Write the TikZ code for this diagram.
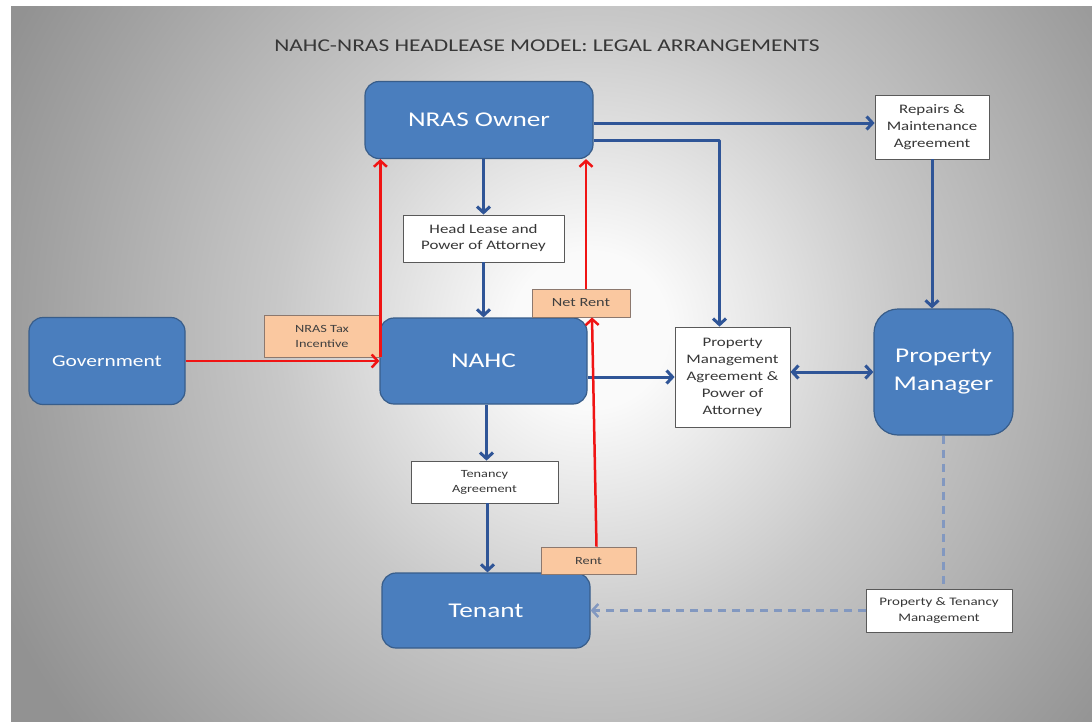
\documentclass[tikz,border=0pt]{standalone}
\usepackage{fontspec}
\setmainfont{Carlito}[FakeStretch=1.3]
\usetikzlibrary{arrows.meta}
\definecolor{boxblue}{RGB}{74,126,190}
\definecolor{boxedge}{RGB}{56,93,138}
\definecolor{linkblue}{RGB}{47,85,151}
\definecolor{linkred}{RGB}{240,20,20}
\definecolor{dashblue}{RGB}{130,152,192}
\definecolor{peach}{RGB}{250,200,160}
\definecolor{peachedge}{RGB}{140,120,110}
\definecolor{inktext}{RGB}{55,55,55}
\definecolor{glowlight}{RGB}{250,250,250}
\definecolor{glowmid}{RGB}{200,200,200}
\definecolor{glowdark}{RGB}{162,162,162}
\definecolor{glowedge}{RGB}{146,146,146}
\pgfdeclareradialshading{slideglow}{\pgfpoint{0bp}{0bp}}{color(0bp)=(glowlight);color(3bp)=(glowlight);color(12bp)=(glowmid);color(21bp)=(glowdark);color(25bp)=(glowedge);color(50bp)=(glowedge)}

\begin{document}
\begin{tikzpicture}[x=1pt,y=-1pt,line join=round,>={Straight Barb[length=6pt,width=13pt]}]
	\tikzset{party style/.style={draw=boxedge,line width=1.2pt,fill=boxblue,rounded corners=14pt,text=white,align=center,inner sep=0pt,font=\fontsize{21}{28}\selectfont}}
	\tikzset{deal style/.style={draw=black!65,line width=0.8pt,fill=white,text=inktext,align=center,inner sep=0pt,font=\fontsize{13}{17}\selectfont}}
	\tikzset{money style/.style={draw=peachedge,line width=0.8pt,fill=peach,text=black!75,align=center,inner sep=0pt,font=\fontsize{11}{15}\selectfont}}
	\tikzset{blue link/.style={draw=linkblue,line width=3pt}}
	\tikzset{red link/.style={draw=linkred,line width=2.5pt}}
	\tikzset{dash link/.style={draw=dashblue,line width=2.5pt,dash pattern=on 8pt off 6pt}}
	\useasboundingbox (0,0) rectangle (1092,721);
	% slide background
	\begin{scope}
		\clip (11,6) rectangle (1092,721);
		\shade[shading=slideglow] (-60,-320) rectangle (1240,980);
	\end{scope}
	\node[text=inktext,font=\fontsize{18}{20}\selectfont] (title) at (547,46) {NAHC-NRAS HEADLEASE MODEL: LEGAL ARRANGEMENTS};
	% parties
	\node[party style,minimum width=228pt,minimum height=77pt] (owner) at (479,120) {NRAS Owner};
	\node[party style,minimum width=156pt,minimum height=87pt,font=\fontsize{16.5}{20}\selectfont] (govt) at (107,361) {Government};
	\node[party style,minimum width=207pt,minimum height=86pt] (nahc) at (483.5,361) {NAHC};
	\node[party style,minimum width=208pt,minimum height=75pt] (tenant) at (486,610.5) {Tenant};
	\node[party style,minimum width=139pt,minimum height=126pt,rounded corners=24pt] (pm) at (943.5,372) {Property\\Manager};
	% agreements
	\node[deal style,minimum width=161pt,minimum height=47pt,font=\fontsize{13}{16}\selectfont] (lease) at (483.5,238.5) {Head Lease and\\Power of Attorney};
	\node[deal style,minimum width=114pt,minimum height=64pt] (repairs) at (932,127) {Repairs \&\\Maintenance\\Agreement};
	\node[deal style,minimum width=115pt,minimum height=100pt] (pma) at (732.5,377) {Property\\Management\\Agreement \&\\Power of\\Attorney};
	\node[deal style,minimum width=147pt,minimum height=42pt,font=\fontsize{11}{15}\selectfont] (tenancy) at (484.5,482) {Tenancy\\Agreement};
	\node[deal style,minimum width=146pt,minimum height=43pt,font=\fontsize{11.5}{16}\selectfont] (ptm) at (939,610.5) {Property \& Tenancy\\Management};
	% payments
	\node[money style,minimum width=116pt,minimum height=42pt] (tax) at (322,336) {NRAS Tax\\Incentive};
	\node[money style,minimum width=98pt,minimum height=28pt,font=\fontsize{12.5}{15}\selectfont] (netrent) at (581,303) {Net Rent};
	\node[money style,minimum width=95pt,minimum height=27pt] (rent) at (588.5,560.5) {Rent};
	% legal links
	\draw[blue link,->] (lease.north |- owner.south) -- (lease.north);
	\draw[blue link,->] (lease) -- (nahc);
	\draw[blue link,->] ([xshift=3pt]nahc.south) -- ([xshift=3pt]nahc.south |- tenancy.north);
	\draw[blue link,->] ([xshift=3pt]tenancy.south) -- ([xshift=3pt]tenancy.south |- tenant.north);
	\draw[blue link,->] ([yshift=4pt]repairs.west -| owner.east) -- ([yshift=4pt]repairs.west);
	\draw[blue link,->] ([yshift=-20pt]owner.east) -| ([xshift=-13pt]pma.north);
	\draw[blue link,->] (nahc.east |- pma.west) -- (pma.west);
	\draw[blue link,<->] (pm.west -| pma.east) -- (pm.west);
	\draw[blue link,->] (repairs.south) -- (repairs.south |- pm.north);
	% money links
	\draw[red link,->] (govt.east) -- (nahc.west);
	\draw[red link,->] (tax.south east) -- (tax.east |- owner.south);
	\draw[red link,->] ([xshift=5pt]netrent.north) -- ([xshift=5pt]netrent.north |- owner.south);
	\draw[red link,->] ([xshift=8pt]rent.north) -- ([xshift=11pt]netrent.south);
	% management
	\draw[dash link] (pm.south) -- (pm.south |- ptm.north);
	\draw[dash link,->] (ptm.west) -- (ptm.west -| tenant.east);
\end{tikzpicture}
\end{document}
